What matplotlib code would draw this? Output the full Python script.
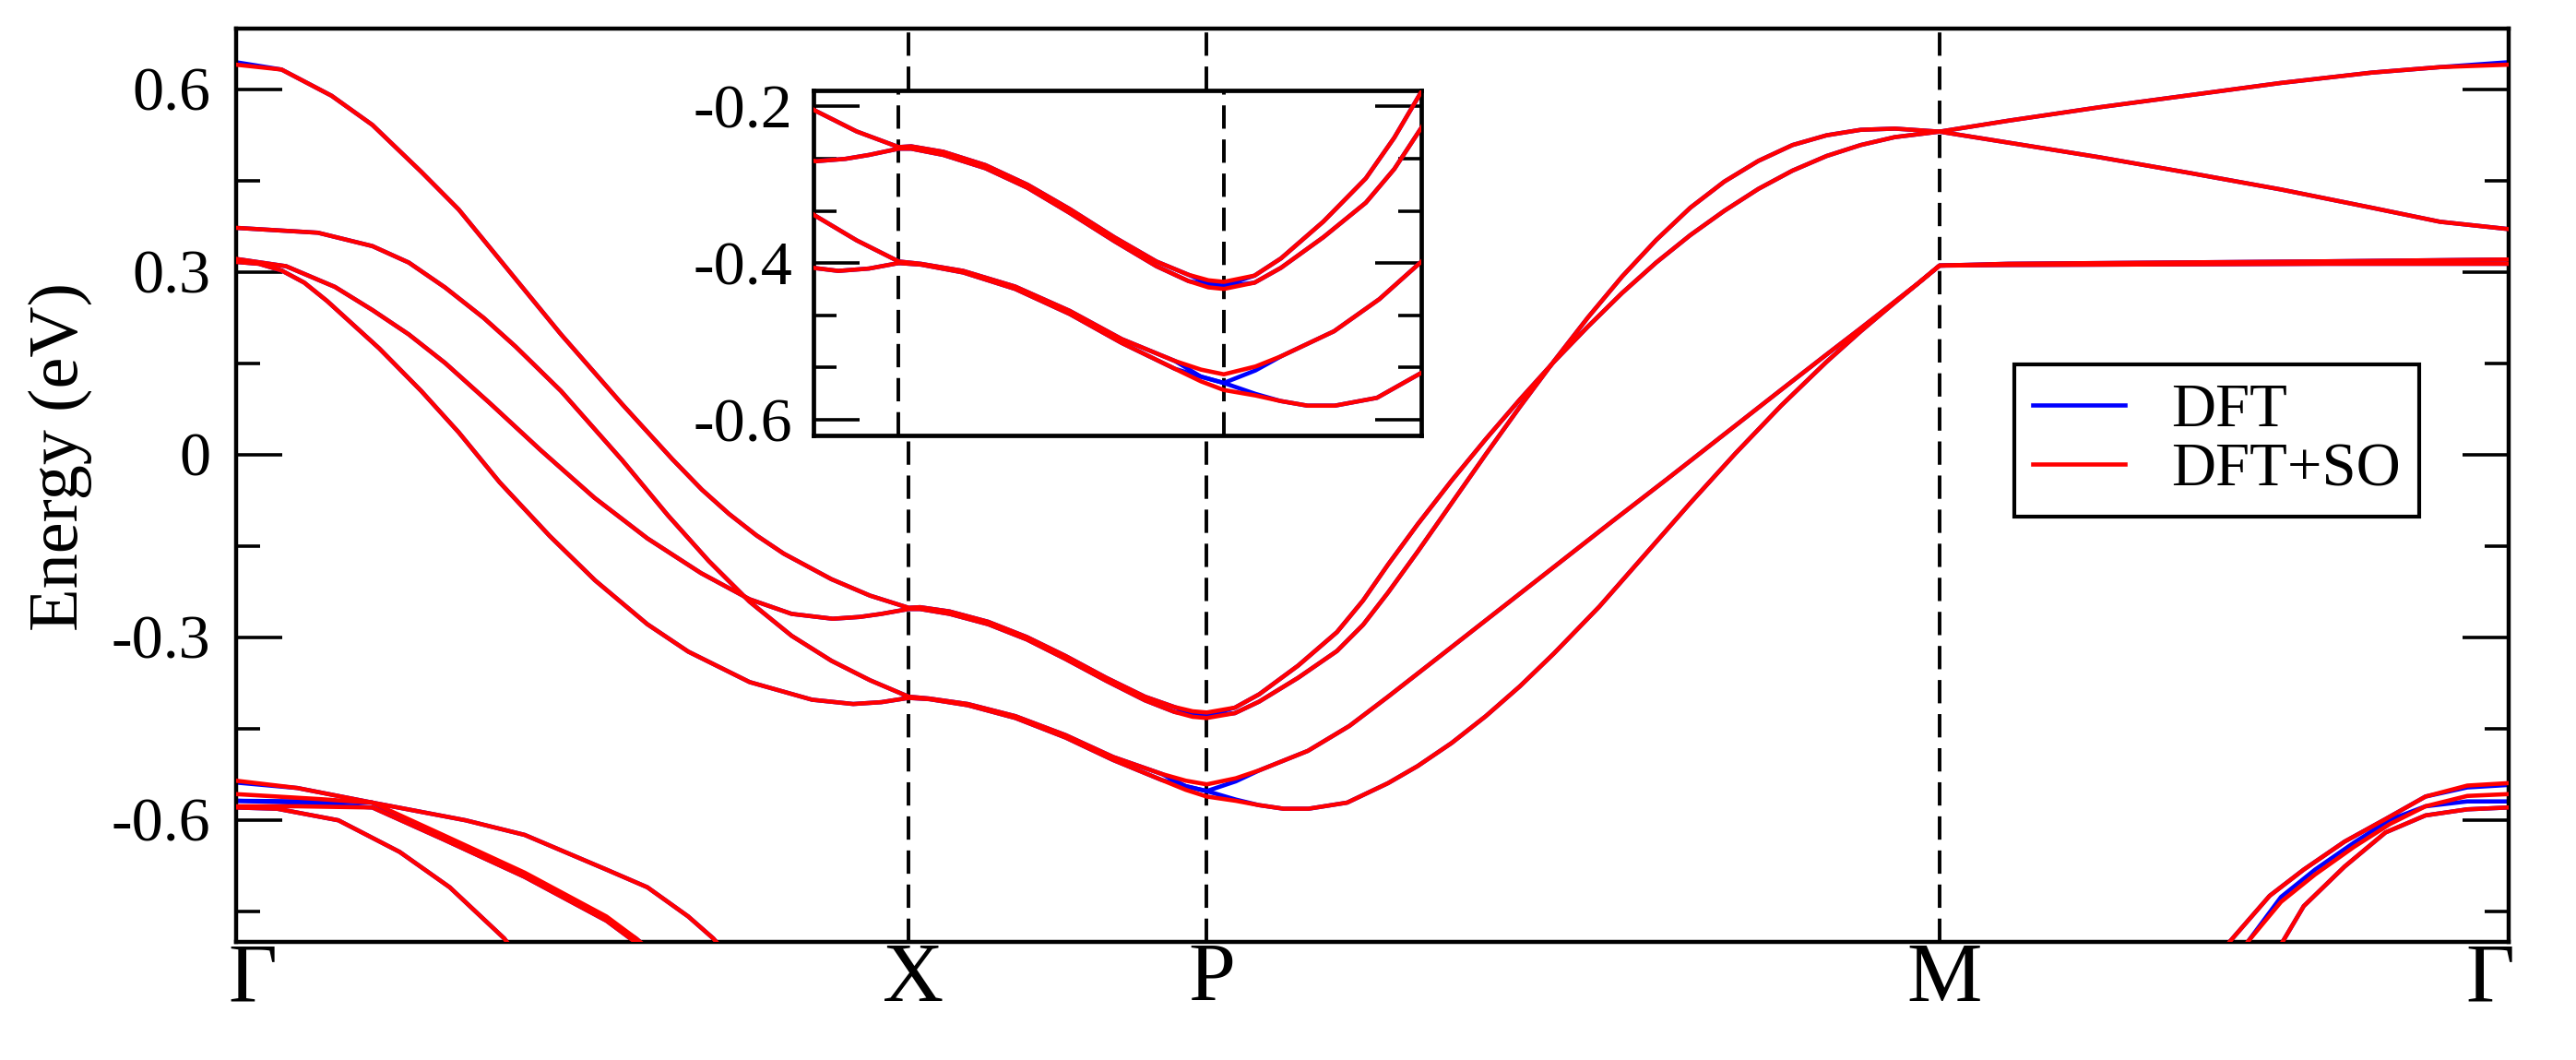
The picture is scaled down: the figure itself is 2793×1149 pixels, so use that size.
import matplotlib
matplotlib.use('Agg')
import matplotlib.pyplot as plt
from matplotlib.ticker import MultipleLocator

plt.rcParams['font.family'] = ['Liberation Serif', 'DejaVu Serif']

# high-symmetry points along the path
kpts = [0.0, 0.2960, 0.4272, 0.7497, 1.0]
klabels = ['Γ', 'X', 'P', 'M', 'Γ']

# DFT+SO bands (k, E in eV)
cb1 = [(0.0, 0.640), (0.020, 0.632), (0.042, 0.589), (0.060, 0.541), (0.0815, 0.464), (0.098, 0.402),
       (0.123, 0.288), (0.143, 0.197), (0.170, 0.082), (0.192, -0.008), (0.205, -0.058), (0.217, -0.098),
       (0.229, -0.133), (0.241, -0.163), (0.262, -0.205), (0.279, -0.232), (0.296, -0.252), (0.301, -0.251),
       (0.314, -0.258), (0.331, -0.275), (0.348, -0.300), (0.365, -0.331), (0.383, -0.367), (0.400, -0.398),
       (0.413, -0.415), (0.421, -0.422), (0.4272, -0.424), (0.4396, -0.416), (0.4503, -0.394), (0.4674, -0.347),
       (0.4845, -0.292), (0.496, -0.240), (0.507, -0.181), (0.520, -0.115), (0.535, -0.043), (0.550, 0.025),
       (0.565, 0.090), (0.580, 0.152), (0.595, 0.210), (0.610, 0.265), (0.625, 0.315), (0.640, 0.360),
       (0.655, 0.400), (0.670, 0.436), (0.685, 0.466), (0.700, 0.490), (0.715, 0.508), (0.730, 0.521),
       (0.7497, 0.530), (0.780, 0.548), (0.820, 0.570), (0.860, 0.590), (0.900, 0.610), (0.940, 0.627),
       (0.970, 0.636), (1.0, 0.640)]
cb3 = [(0.0, 0.321), (0.022, 0.309), (0.0435, 0.275), (0.060, 0.237), (0.076, 0.197), (0.092, 0.150),
       (0.112, 0.083), (0.134, 0.007), (0.1576, -0.071), (0.181, -0.138), (0.2046, -0.195), (0.226, -0.238),
       (0.2445, -0.262), (0.2626, -0.270), (0.2745, -0.267), (0.284, -0.262), (0.296, -0.254), (0.301, -0.254),
       (0.314, -0.262), (0.331, -0.279), (0.348, -0.304), (0.365, -0.336), (0.383, -0.372), (0.400, -0.404),
       (0.413, -0.423), (0.421, -0.431), (0.4272, -0.433), (0.4396, -0.425), (0.4503, -0.406), (0.4674, -0.367),
       (0.4845, -0.323), (0.496, -0.280), (0.507, -0.227), (0.520, -0.160), (0.535, -0.080), (0.550, 0.000),
       (0.565, 0.078), (0.580, 0.153), (0.595, 0.225), (0.610, 0.292), (0.625, 0.352), (0.640, 0.405),
       (0.655, 0.448), (0.670, 0.482), (0.685, 0.508), (0.700, 0.524), (0.715, 0.533), (0.730, 0.535),
       (0.7497, 0.530), (0.780, 0.512), (0.820, 0.488), (0.860, 0.462), (0.900, 0.435), (0.940, 0.405),
       (0.970, 0.382), (1.0, 0.370)]
cb2 = [(0.0, 0.372), (0.036, 0.364), (0.060, 0.342), (0.076, 0.315), (0.092, 0.274), (0.109, 0.224),
       (0.123, 0.177), (0.143, 0.104), (0.170, -0.010), (0.190, -0.100), (0.208, -0.175), (0.226, -0.242),
       (0.2445, -0.298), (0.262, -0.339), (0.279, -0.371), (0.296, -0.398), (0.305, -0.401), (0.322, -0.410),
       (0.343, -0.430), (0.365, -0.461), (0.386, -0.497), (0.4075, -0.525), (0.418, -0.536), (0.4272, -0.542),
       (0.440, -0.532), (0.4503, -0.519), (0.4717, -0.487), (0.490, -0.446), (0.507, -0.398), (0.530, -0.331),
       (0.555, -0.258), (0.580, -0.185), (0.605, -0.112), (0.630, -0.040), (0.655, 0.033), (0.680, 0.106),
       (0.700, 0.164), (0.715, 0.207), (0.728, 0.245), (0.740, 0.280), (0.7497, 0.310), (0.780, 0.313),
       (0.850, 0.315), (0.920, 0.317), (1.0, 0.320)]
cb4 = [(0.0, 0.316), (0.010, 0.313), (0.020, 0.302), (0.030, 0.282), (0.040, 0.252), (0.063, 0.174),
       (0.0815, 0.104), (0.098, 0.036), (0.116, -0.046), (0.138, -0.134), (0.158, -0.207), (0.181, -0.279),
       (0.199, -0.324), (0.226, -0.374), (0.2535, -0.403), (0.2716, -0.410), (0.284, -0.407), (0.296, -0.400),
       (0.305, -0.402), (0.322, -0.412), (0.343, -0.433), (0.365, -0.465), (0.386, -0.502), (0.4075, -0.535),
       (0.418, -0.551), (0.4272, -0.562), (0.440, -0.569), (0.450, -0.576), (0.461, -0.582), (0.472, -0.582),
       (0.489, -0.572), (0.507, -0.540), (0.520, -0.512), (0.535, -0.474), (0.550, -0.430), (0.565, -0.381),
       (0.580, -0.327), (0.600, -0.250), (0.620, -0.165), (0.640, -0.080), (0.660, 0.002), (0.680, 0.080),
       (0.700, 0.152), (0.715, 0.202), (0.728, 0.243), (0.740, 0.280), (0.7497, 0.310), (0.780, 0.311),
       (0.850, 0.312), (0.920, 0.313), (1.0, 0.313)]

# valence bands near Gamma (left and right end)
v1 = [(0.0, -0.536), (0.027, -0.548), (0.060, -0.572), (0.091, -0.625), (0.127, -0.687), (0.163, -0.759),
      (0.176, -0.795), (0.190, -0.840)]
v2 = [(0.0, -0.558), (0.036, -0.566), (0.060, -0.572), (0.101, -0.601), (0.127, -0.625), (0.163, -0.682),
      (0.181, -0.711), (0.199, -0.759), (0.210, -0.795), (0.225, -0.860)]
v3 = [(0.0, -0.578), (0.027, -0.578), (0.060, -0.580), (0.091, -0.632), (0.127, -0.694), (0.163, -0.766),
      (0.176, -0.802), (0.190, -0.850)]
v4 = [(0.0, -0.580), (0.018, -0.582), (0.045, -0.601), (0.072, -0.653), (0.094, -0.711), (0.118, -0.795),
      (0.125, -0.830)]
w1 = [(0.870, -0.840), (0.8775, -0.800), (0.895, -0.725), (0.910, -0.682), (0.928, -0.636), (0.946, -0.599),
      (0.9636, -0.562), (0.982, -0.544), (1.0, -0.540)]
w2 = [(0.878, -0.840), (0.8855, -0.800), (0.900, -0.735), (0.915, -0.690), (0.932, -0.645), (0.948, -0.607),
      (0.9636, -0.578), (0.982, -0.561), (1.0, -0.558)]
w4 = [(0.894, -0.840), (0.9008, -0.800), (0.910, -0.742), (0.928, -0.677), (0.946, -0.621), (0.9636, -0.593),
      (0.982, -0.583), (1.0, -0.580)]

# where plain DFT differs from DFT+SO (k -> E)
dft_cb1 = {0.0: 0.644, 1.0: 0.644, 0.421: -0.426, 0.4272: -0.429}
dft_cb3 = {0.421: -0.428, 0.4272: -0.430}
dft_cb2 = {0.418: -0.545, 0.4272: -0.553, 0.440: -0.537}
dft_cb4 = {0.418: -0.545, 0.4272: -0.553, 0.440: -0.567}
dft_v1 = {0.0: -0.539, 0.091: -0.630, 0.127: -0.692, 0.163: -0.764}
dft_v2 = {0.0: -0.569, 0.036: -0.570}
dft_v3 = {0.0: -0.569, 0.027: -0.572}
dft_v4 = {}
dft_w1 = {1.0: -0.543, 0.982: -0.547}
dft_w2 = {1.0: -0.570, 0.982: -0.570, 0.9636: -0.578, 0.948: -0.600, 0.932: -0.638, 0.915: -0.682,
          0.900: -0.727}
dft_w4 = {}

so_bands = [cb1, cb2, cb3, cb4, v1, v2, v3, v4, w1, w2, w4]
dft_fix = [dft_cb1, dft_cb2, dft_cb3, dft_cb4, dft_v1, dft_v2, dft_v3, dft_v4, dft_w1, dft_w2, dft_w4]


def draw_bands(a, label=False):
    for i, (band, fix) in enumerate(zip(so_bands, dft_fix)):
        k = [p[0] for p in band]
        e_so = [p[1] for p in band]
        e_dft = [fix.get(kk, ee) for kk, ee in band]
        a.plot(k, e_dft, color='#0000ff', lw=3.3, zorder=2, solid_joinstyle='round',
               label='DFT' if (label and i == 0) else None)
        a.plot(k, e_so, color='#ff0000', lw=3.3, zorder=3, solid_joinstyle='round',
               label='DFT+SO' if (label and i == 0) else None)


W, H = 2793, 1149
fig = plt.figure(figsize=(W / 100, H / 100), dpi=100)

# main panel
ax = fig.add_axes([256 / W, 1 - 1020.5 / H, (2719.5 - 256) / W, (1020.5 - 30.5) / H])
draw_bands(ax, label=True)
for k in kpts[1:4]:
    ax.axvline(k, color='k', lw=2.8, ls=(0, (6.5, 3)), zorder=1.5)
ax.set_xlim(0, 1)
ax.set_ylim(-0.8, 0.7)
ax.set_yticks([-0.6, -0.3, 0, 0.3, 0.6], ['-0.6', '-0.3', '0', '0.3', '0.6'])
ax.yaxis.set_minor_locator(MultipleLocator(0.15))
ax.tick_params(axis='y', which='both', direction='in', left=True, right=True, width=2.6, labelsize=49, pad=20)
ax.tick_params(axis='y', which='major', length=36)
ax.tick_params(axis='y', which='minor', length=19)
# end labels sit slightly inside the frame
xlab_pos = [kpts[0] + 0.0073, kpts[1] + 0.002, kpts[2] + 0.002, kpts[3] + 0.002, kpts[4] - 0.008]
ax.set_xticks(xlab_pos, klabels)
ax.tick_params(axis='x', length=0, pad=1, labelsize=66)
for s in ax.spines.values():
    s.set_linewidth(3.2)
ax.set_ylabel('Energy (eV)', fontsize=55)
ax.yaxis.set_label_coords(-0.0633, 0.531)

leg = ax.legend(loc='upper left', bbox_to_anchor=(2184 / W, 1 - 395 / H), bbox_transform=fig.transFigure,
                fontsize=48, frameon=True, fancybox=False, edgecolor='black', framealpha=1,
                borderpad=0.3, handlelength=1.5, handletextpad=0.75, labelspacing=0.05, borderaxespad=0)
leg.get_frame().set_linewidth(3.0)
for ln in leg.get_lines():
    ln.set_linewidth(3.3)

# inset zoom around X-P
ins = fig.add_axes([881.5 / W, 1 - 472 / H, (1541 - 881.5) / W, (472 - 98.3) / H])
ins.set_facecolor('white')
draw_bands(ins)
for k in kpts[1:3]:
    ins.axvline(k, color='k', lw=2.8, ls=(0, (6.5, 3)), zorder=1.5)
ins.set_xlim(0.2614, 0.5069)
ins.set_ylim(-0.62, -0.18)
ins.set_xticks([])
ins.set_yticks([-0.6, -0.4, -0.2], ['-0.6', '-0.4', '-0.2'])
ins.yaxis.set_minor_locator(MultipleLocator(0.2 / 3))
ins.tick_params(axis='y', which='both', direction='in', left=True, right=True, width=2.6, labelsize=49, pad=16)
ins.tick_params(axis='y', which='major', length=36)
ins.tick_params(axis='y', which='minor', length=18)
for s in ins.spines.values():
    s.set_linewidth(3.4)

fig.savefig('out.png', dpi=100)
